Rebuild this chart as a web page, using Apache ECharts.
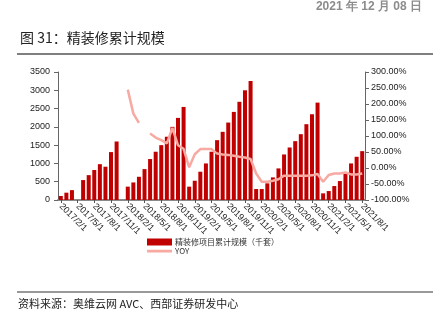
<!DOCTYPE html>
<html><head><meta charset="utf-8">
<script src="https://cdn.jsdelivr.net/npm/echarts@6/dist/echarts.min.js"></script>
<style>html,body{margin:0;padding:0;background:#fff}#c{width:443px;height:322px}</style>
</head><body><div id="c"></div>
<script>
var categories = ['2017/2/1','2017/3/1','2017/4/1','2017/5/1','2017/6/1','2017/7/1','2017/8/1','2017/9/1','2017/10/1','2017/11/1','2017/12/1',
'2018/1/1','2018/2/1','2018/3/1','2018/4/1','2018/5/1','2018/6/1','2018/7/1','2018/8/1','2018/9/1','2018/10/1','2018/11/1','2018/12/1',
'2019/1/1','2019/2/1','2019/3/1','2019/4/1','2019/5/1','2019/6/1','2019/7/1','2019/8/1','2019/9/1','2019/10/1','2019/11/1','2019/12/1',
'2020/1/1','2020/2/1','2020/3/1','2020/4/1','2020/5/1','2020/6/1','2020/7/1','2020/8/1','2020/9/1','2020/10/1','2020/11/1','2020/12/1',
'2021/1/1','2021/2/1','2021/3/1','2021/4/1','2021/5/1','2021/6/1','2021/7/1','2021/8/1'];
var scale = [110,200,270,null,545,680,820,980,910,1310,1600,
null,365,480,635,845,1120,1320,1500,1730,2000,2245,2545,
365,527,773,1000,1320,1636,1864,2118,2409,2685,3000,3254,
300,300,455,618,864,1245,1436,1609,1800,2073,2345,2663,
182,245,382,518,727,1000,1182,1336];
var yoy = [null,null,null,null,null,null,null,null,null,null,null,
null,245,170,141,null,108,95,87,77,125,71,60,
2,43,59,59,59,45,42,41,38,35,33,28,
-17,-43,-43,-40,-35,-24,-24,-24,-24,-24,-23,-19,
-43,-22,-17,-17,-14,-20,-20,-17];
var leftTicks = {min:0, max:3500, interval:500};
var rightTicks = {min:-100, max:300, interval:50};

var chart = echarts.init(document.getElementById('c'), null, {renderer:'canvas'});
var fontF = 'Liberation Sans, Arial, sans-serif';
var cjkF = '"Noto Sans CJK SC", sans-serif';
var lineIcon = 'path://M0,0L0.01,0L0.01,0.01ZM0,7L0.01,7L0.01,6.99ZM0,2.3H25V5H0Z';
chart.setOption({
  animation:false,
  backgroundColor:'#fff',
  graphic:[
    {type:'text', right:21, top:1, style:{text:'2021 年 12 月 08 日', fill:'#8c8c8c', font:'bold 12px '+fontF}},
    {type:'text', left:20, top:31, style:{text:'图 31：精装修累计规模', fill:'#222', font:'14px '+cjkF}},
    {type:'line', shape:{x1:17,y1:54,x2:433,y2:54}, style:{stroke:'#555', lineWidth:1.5}},
    {type:'line', shape:{x1:17,y1:292,x2:433,y2:292}, style:{stroke:'#777', lineWidth:1.5}},
    {type:'text', left:18, top:298, style:{text:'资料来源：奥维云网 AVC、西部证券研发中心', fill:'#222', font:'11px '+cjkF}}
  ],
  grid:{left:58, right:78, top:72, bottom:122, containLabel:false},
  legend:{
    orient:'vertical', left:142, top:233, itemGap:1, itemWidth:25, itemHeight:7,
    textStyle:{fontSize:8, color:'#333', fontFamily:cjkF, padding:[0,0,0,-2]},
    data:[{name:'精装修项目累计规模（千套）', icon:'rect'},{name:'YOY', icon:lineIcon}]
  },
  xAxis:{
    type:'category', data:categories,
    axisLine:{show:true, lineStyle:{color:'#8a8a8a', width:2}},
    axisTick:{show:true, interval:2, alignWithLabel:true, length:3, lineStyle:{color:'#555'}},
    axisLabel:{interval:2, rotate:-45, fontSize:9, color:'#222', margin:5, fontFamily:fontF}
  },
  yAxis:[
    {type:'value', min:leftTicks.min, max:leftTicks.max, interval:leftTicks.interval,
     axisLine:{show:true, lineStyle:{color:'#666'}}, axisTick:{show:true, length:4, lineStyle:{color:'#666'}},
     splitLine:{show:false}, axisLabel:{fontSize:9, color:'#222', margin:8, fontFamily:fontF,
       formatter:function(v){return String(v);}}},
    {type:'value', min:rightTicks.min, max:rightTicks.max, interval:rightTicks.interval,
     axisLine:{show:true, lineStyle:{color:'#666'}}, axisTick:{show:true, length:4, lineStyle:{color:'#666'}},
     splitLine:{show:false}, axisLabel:{fontSize:9, color:'#222', margin:6, fontFamily:fontF,
       formatter:function(v){return v.toFixed(2)+'%';}}}
  ],
  series:[
    {name:'精装修项目累计规模（千套）', type:'bar', data:scale, barWidth:4,
     itemStyle:{color:'#C00000'}},
    {name:'YOY', type:'line', yAxisIndex:1, data:yoy, symbol:'none', connectNulls:false,
     lineStyle:{color:'#F7A9A2', width:2.5}, itemStyle:{color:'#F7A9A2'}}
  ]
});
</script></body></html>
